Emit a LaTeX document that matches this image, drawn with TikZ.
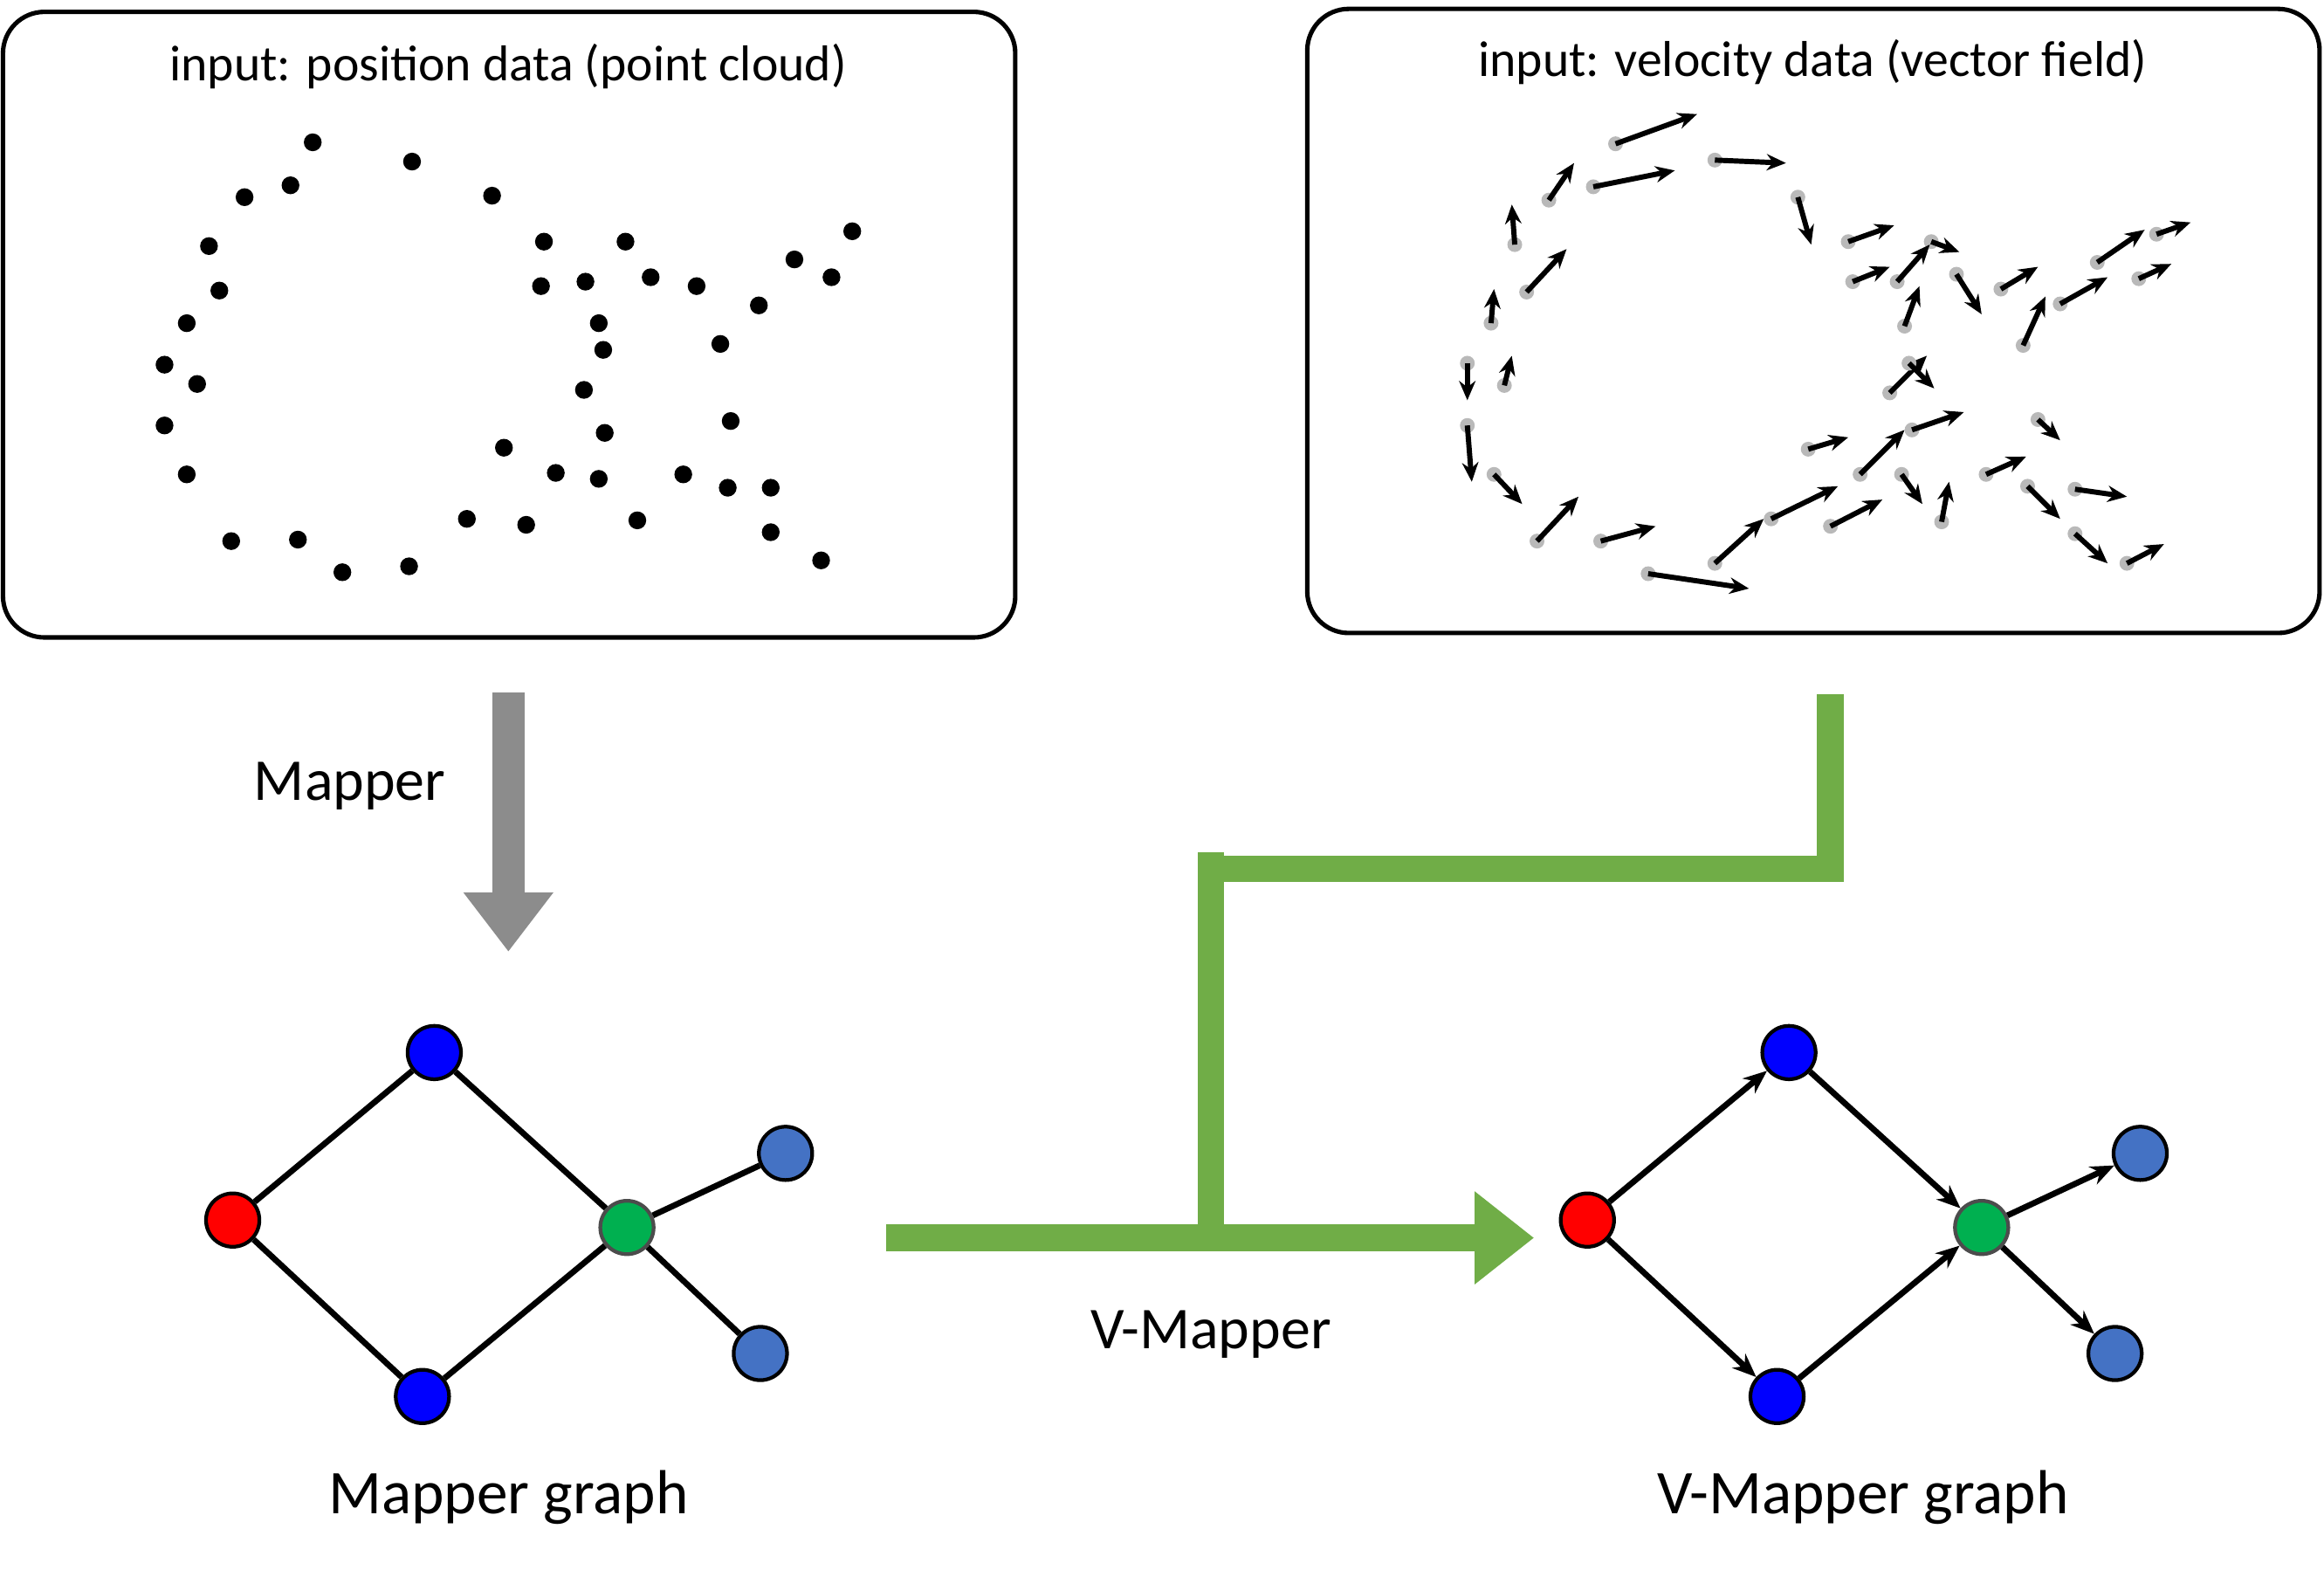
\documentclass[tikz,border=0pt]{standalone}
\usepackage{fontspec}
\setmainfont{Carlito}
\usetikzlibrary{arrows.meta}
\begin{document}
\begin{tikzpicture}[x=1pt,y=-1pt,
 box/.style={draw=black,line width=3pt,rounded corners=28pt},
 pt/.style={circle,fill=black,inner sep=0pt,minimum size=12pt},
 gp/.style={circle,fill=gray!55,inner sep=0pt,minimum size=10pt},
 vec/.style={-{Stealth[length=13pt,width=11pt]},line width=3.5pt},
 gn/.style={circle,draw=black,line width=2.5pt,minimum size=36pt,inner sep=0pt},
 ed/.style={line width=4pt},
 ea/.style={line width=4pt,-{Stealth[length=16pt,width=13pt]}},
 green/.style={draw=green!45!black!60!lime,line width=18pt},
 lbl/.style={font=\fontsize{42}{46}\selectfont}]
\definecolor{gg}{RGB}{112,173,71}
\definecolor{lb}{RGB}{68,114,196}
\definecolor{gr}{RGB}{0,176,80}
\useasboundingbox (0,0) rectangle (1568,1068);
\draw[box] (2,8) rectangle (685,430);
\draw[box] (882,6) rectangle (1565,427);
\node[font=\fontsize{34}{38}\selectfont] (t1) at (343,45) {input: position data (point cloud)};
\node[font=\fontsize{34}{38}\selectfont] (t2) at (1223,42) {input: velocity data (vector field)};
\foreach \x/\y in {211/96,278/109,196/125,165/133,332/132,141/166,367/163,422/163,148/196,365/193,395/190,439/187,470/193,536/175,561/187,575/156,512/206,126/218,404/218,407/236,486/232,111/246,133/259,394/263,111/287,493/284,408/292,340/302,126/320,375/319,404/323,461/320,491/329,520/329,315/350,355/354,430/351,520/359,156/365,201/364,554/378,231/386,276/382}
  \node[pt] at (\x,\y) {};
\foreach \a/\b/\c/\d in {1090/97/1145/77,1075/126/1130/115,1157/108/1205/110,1213/133/1222/165,1045/135/1062/110,1022/165/1020/138,1030/197/1057/168,1006/218/1008/195,990/245/990/270,1015/260/1020/240,990/287/993/325,1008/320/1027/340,1037/365/1065/335,1080/365/1117/355,1112/387/1180/397,1157/380/1190/350,1195/350/1240/328,1235/355/1270/337,1220/303/1247/295,1255/320/1285/290,1283/320/1297/340,1310/352/1315/325,1290/290/1325/278,1275/265/1300/240,1285/220/1295/193,1250/190/1275/180,1247/163/1278/152,1303/163/1322/170,1320/185/1337/212,1280/190/1302/165,1350/195/1375/180,1365/233/1380/200,1390/205/1422/187,1415/177/1447/155,1443/188/1465/178,1455/158/1478/150,1340/320/1367/308,1375/283/1390/297,1368/328/1390/350,1400/330/1435/335,1400/360/1422/380,1435/380/1460/367,1288/245/1305/262}
  {\node[gp] (s) at (\a,\b) {}; \coordinate (e) at (\c,\d); \draw[vec] (s.center) -- (e);}
% gray Mapper arrow
\coordinate (g1) at (343,467); \coordinate (g2) at (343,642);
\draw[gray!90,line width=22pt,-{Triangle[length=40pt,width=58pt]}] (g1) -- (g2);
\node[font=\fontsize{40}{44}\selectfont] (m) at (236,530) {Mapper};
% green connectors
\coordinate (v1) at (1235,468); \coordinate (v2) at (1235,586); \coordinate (v3) at (817,586); \coordinate (v4) at (817,830);
\draw[draw=gg,line width=18pt] (v1) -- (v2) -- (v3) -- (817,575);
\draw[draw=gg,line width=18pt] (817,586) -- (v4);
\coordinate (h1) at (598,835); \coordinate (h2) at (1035,835);
\draw[draw=gg,line width=18pt,-{Triangle[length=40pt,width=60pt]}] (h1) -- (h2);
\node[font=\fontsize{40}{44}\selectfont] (vm) at (817,900) {V-Mapper};
% Mapper graph
\node[gn,fill=blue] (a1) at (293,710) {};
\node[gn,fill=red] (a2) at (157,823) {};
\node[gn,fill=blue] (a3) at (285,942) {};
\node[gn,fill=gr,draw=black!70] (a4) at (423,828) {};
\node[gn,fill=lb] (a5) at (530,778) {};
\node[gn,fill=lb] (a6) at (513,913) {};
\draw[ed] (a2)--(a1); \draw[ed] (a2)--(a3); \draw[ed] (a1)--(a4); \draw[ed] (a3)--(a4); \draw[ed] (a4)--(a5); \draw[ed] (a4)--(a6);
\node[lbl] (l1) at (343,1010) {Mapper graph};
% V-Mapper graph
\node[gn,fill=blue] (b1) at (1207,710) {};
\node[gn,fill=red] (b2) at (1071,823) {};
\node[gn,fill=blue] (b3) at (1199,942) {};
\node[gn,fill=gr,draw=black!70] (b4) at (1337,828) {};
\node[gn,fill=lb] (b5) at (1444,778) {};
\node[gn,fill=lb] (b6) at (1427,913) {};
\draw[ea] (b2)--(b1); \draw[ea] (b2)--(b3); \draw[ea] (b1)--(b4); \draw[ea] (b3)--(b4); \draw[ea] (b4)--(b5); \draw[ea] (b4)--(b6);
\node[lbl] (l2) at (1257,1010) {V-Mapper graph};
\end{tikzpicture}
\end{document}
